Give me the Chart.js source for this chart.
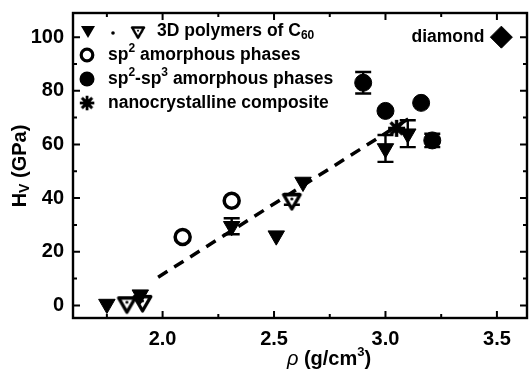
<!DOCTYPE html>
<html>
<head>
<meta charset="utf-8">
<script src="https://cdn.jsdelivr.net/npm/chart.js@4.4.0/dist/chart.umd.min.js"></script>
<style>
  html,body{margin:0;padding:0;background:#fff}
</style>
</head>
<body>
<canvas id="chart" width="530" height="373"></canvas>
<script>
// ---- data ----
const xTicks = [2.0, 2.5, 3.0, 3.5];
const yTicks = [0, 20, 40, 60, 80, 100];
const xMinor = [1.75, 2.25, 2.75, 3.25];
const yMinor = [10, 30, 50, 70, 90];

// 3D polymers of C60 (filled triangles)
const polyFilledX = [1.75, 1.90, 2.31, 2.51, 2.63, 3.00, 3.10];
const polyFilledY = [0.5, 4, 29.5, 26, 46, 58.5, 64];
const polyFilledErr = [0, 0, 3, 0, 0, 5, 5];
// 3D polymers of C60 (open triangles with dot)
const polyOpenX = [1.84, 1.91, 2.58];
const polyOpenY = [1, 1.5, 39.5];
const polyOpenErr = [0, 0, 2];
// sp2 amorphous phases
const sp2X = [2.09, 2.31];
const sp2Y = [25.5, 39];
// sp2-sp3 amorphous phases
const sp23X = [2.90, 3.00, 3.16, 3.21];
const sp23Y = [83, 72.5, 75.5, 61.5];
const sp23Err = [4, 0, 0, 2.5];
// nanocrystalline composite
const nanoX = [3.05];
const nanoY = [66];
// diamond
const diamondX = [3.52];
const diamondY = [100];
// dashed trend line
const fitX = [1.98, 3.13];
const fitY = [10.5, 71];

const pts = (xs, ys) => xs.map((x, i) => ({x: x, y: ys[i]}));
const FONT = '"Liberation Sans", Arial, Helvetica, sans-serif';

// custom marker: open triangle (pointing down) with a dot
function makeOpenTri(r){
  const c = document.createElement('canvas');
  const s = Math.ceil(r * 2 + 6);
  c.width = s; c.height = s;
  const g = c.getContext('2d');
  const cx = s / 2, cy = s / 2;
  g.beginPath();
  for (let k = 0; k < 3; k++){
    const a = Math.PI / 2 + k * 2 * Math.PI / 3;
    const px = cx + r * Math.cos(a), py = cy + r * Math.sin(a);
    if (k === 0) g.moveTo(px, py); else g.lineTo(px, py);
  }
  g.closePath();
  g.fillStyle = '#fff'; g.fill();
  g.lineJoin = 'round';
  g.lineWidth = 3.4; g.strokeStyle = '#000'; g.stroke();
  g.fillStyle = '#000';
  g.beginPath(); g.arc(cx, cy - 0.5, 1.5, 0, Math.PI * 2); g.fill();
  return c;
}
// custom marker: bold asterisk
function makeStar(r){
  const c = document.createElement('canvas');
  const s = Math.ceil(r * 2 + 4);
  c.width = s; c.height = s;
  const g = c.getContext('2d');
  const cx = s / 2, cy = s / 2;
  g.strokeStyle = '#000'; g.lineWidth = 3.4; g.lineCap = 'butt';
  for (let k = 0; k < 4; k++){
    const a = k * Math.PI / 4;
    g.beginPath();
    g.moveTo(cx - r * Math.cos(a), cy - r * Math.sin(a));
    g.lineTo(cx + r * Math.cos(a), cy + r * Math.sin(a));
    g.stroke();
  }
  g.fillStyle = '#000';
  g.beginPath(); g.arc(cx, cy, r * 0.55, 0, Math.PI * 2); g.fill();
  return c;
}
const openTriImg = makeOpenTri(9.5);
const starImg = makeStar(8.5);

// error bars, drawn under the markers
const errorBars = {
  id: 'errorBars',
  beforeDatasetsDraw(chart){
    const ctx = chart.ctx, ys = chart.scales.y;
    ctx.save();
    ctx.strokeStyle = '#000'; ctx.lineWidth = 2.4;
    chart.data.datasets.forEach((ds, di) => {
      if (!ds.errY) return;
      const meta = chart.getDatasetMeta(di);
      meta.data.forEach((el, i) => {
        const e = ds.errY[i];
        if (!e) return;
        const v = ds.data[i].y;
        const y1 = ys.getPixelForValue(v + e), y2 = ys.getPixelForValue(v - e);
        ctx.beginPath();
        ctx.moveTo(el.x, y1); ctx.lineTo(el.x, y2);
        ctx.moveTo(el.x - 8, y1); ctx.lineTo(el.x + 8, y1);
        ctx.moveTo(el.x - 8, y2); ctx.lineTo(el.x + 8, y2);
        ctx.stroke();
      });
    });
    ctx.restore();
  }
};

// frame, inward ticks, legend and axis titles
const decor = {
  id: 'decor',
  afterDraw(chart){
    const ctx = chart.ctx, a = chart.chartArea;
    const xs = chart.scales.x, ys = chart.scales.y;
    ctx.save();
    ctx.strokeStyle = '#000';
    ctx.lineWidth = 2.4;
    ctx.strokeRect(a.left, a.top, a.right - a.left, a.bottom - a.top);
    ctx.lineWidth = 2;
    const tick = (v, len, horiz) => {
      ctx.beginPath();
      if (horiz){
        const p = xs.getPixelForValue(v);
        ctx.moveTo(p, a.bottom); ctx.lineTo(p, a.bottom - len);
        ctx.moveTo(p, a.top); ctx.lineTo(p, a.top + len);
      } else {
        const p = ys.getPixelForValue(v);
        ctx.moveTo(a.left, p); ctx.lineTo(a.left + len, p);
        ctx.moveTo(a.right, p); ctx.lineTo(a.right - len, p);
      }
      ctx.stroke();
    };
    xTicks.forEach(v => tick(v, 7, true));
    xMinor.forEach(v => tick(v, 4, true));
    yTicks.forEach(v => tick(v, 7, false));
    yMinor.forEach(v => tick(v, 4, false));

    // legend
    ctx.fillStyle = '#000';
    ctx.textBaseline = 'middle';
    const big = 'bold 17.5px ' + FONT, small = 'bold 12px ' + FONT;
    const runs = (x, y, parts) => {
      parts.forEach(p => {
        ctx.font = p[1] ? small : big;
        const dy = p[1] === 'sup' ? -6 : (p[1] === 'sub' ? 5 : 0);
        ctx.fillText(p[0], x, y + dy);
        x += ctx.measureText(p[0]).width;
      });
    };
    const rows = [31, 55, 79, 103];
    // row 1 markers
    ctx.beginPath();
    ctx.moveTo(88 - 7, rows[0] - 5); ctx.lineTo(88 + 7, rows[0] - 5); ctx.lineTo(88, rows[0] + 7);
    ctx.closePath(); ctx.fill();
    ctx.beginPath(); ctx.arc(113, rows[0] + 2, 1.8, 0, Math.PI * 2); ctx.fill();
    ctx.drawImage(openTriImg, 138 - 9, rows[0] - 9, 18, 18);
    runs(157, rows[0], [['3D polymers of C'], ['60', 'sub']]);
    // row 2
    ctx.lineWidth = 3.2;
    ctx.beginPath(); ctx.arc(87, rows[1], 5.8, 0, Math.PI * 2); ctx.stroke();
    runs(108, rows[1], [['sp'], ['2', 'sup'], [' amorphous phases']]);
    // row 3
    ctx.beginPath(); ctx.arc(87, rows[2], 7.5, 0, Math.PI * 2); ctx.fill();
    runs(108, rows[2], [['sp'], ['2', 'sup'], ['-sp'], ['3', 'sup'], [' amorphous phases']]);
    // row 4
    ctx.drawImage(starImg, 87 - 9, rows[3] - 9, 18, 18);
    runs(108, rows[3], [['nanocrystalline composite']]);

    // diamond label
    ctx.font = big;
    ctx.textAlign = 'right';
    ctx.fillText('diamond', xs.getPixelForValue(diamondX[0]) - 17, ys.getPixelForValue(diamondY[0]));

    // axis titles
    ctx.textAlign = 'left';
    const nf = 'bold 20px ' + FONT, sf = 'bold 13px ' + FONT;
    const xt1 = 'ρ', xt2 = ' (g/cm', xt3 = '3', xt4 = ')';
    ctx.font = 'italic 20px ' + FONT; const w1 = ctx.measureText(xt1).width;
    ctx.font = nf; const w2 = ctx.measureText(xt2).width, w4 = ctx.measureText(xt4).width;
    ctx.font = sf; const w3 = ctx.measureText(xt3).width;
    let x0 = 329 - (w1 + w2 + w3 + w4) / 2;
    const ty = 359;
    ctx.font = 'italic 20px ' + FONT; ctx.fillText(xt1, x0, ty); x0 += w1;
    ctx.font = nf; ctx.fillText(xt2, x0, ty); x0 += w2;
    ctx.font = sf; ctx.fillText(xt3, x0, ty - 7); x0 += w3;
    ctx.font = nf; ctx.fillText(xt4, x0, ty);

    ctx.translate(20, 166);
    ctx.rotate(-Math.PI / 2);
    ctx.font = nf; const h1 = ctx.measureText('H').width, h3 = ctx.measureText(' (GPa)').width;
    ctx.font = 'bold 14px ' + FONT; const h2 = ctx.measureText('V').width;
    let yx = -(h1 + h2 + h3) / 2;
    ctx.font = nf; ctx.fillText('H', yx, 0); yx += h1;
    ctx.font = 'bold 14px ' + FONT; ctx.fillText('V', yx, 5); yx += h2;
    ctx.font = nf; ctx.fillText(' (GPa)', yx, 0);
    ctx.restore();
  }
};

new Chart(document.getElementById('chart'), {
  type: 'scatter',
  data: {
    datasets: [
      {label: 'fit', data: pts(fitX, fitY), showLine: true, borderColor: '#000', borderWidth: 3.5,
       borderDash: [11, 8], pointRadius: 0, fill: false, order: 10},
      {label: '3D polymers of C60', data: pts(polyFilledX, polyFilledY), errY: polyFilledErr,
       pointStyle: 'triangle', pointRotation: 180, pointRadius: 9.5, backgroundColor: '#000', borderColor: '#000', borderWidth: 1},
      {label: '3D polymers of C60 (open)', data: pts(polyOpenX, polyOpenY), errY: polyOpenErr,
       pointStyle: openTriImg, pointRadius: 10},
      {label: 'sp2 amorphous phases', data: pts(sp2X, sp2Y), pointStyle: 'circle', pointRadius: 7.5,
       backgroundColor: '#fff', borderColor: '#000', borderWidth: 3.5},
      {label: 'sp2-sp3 amorphous phases', data: pts(sp23X, sp23Y), errY: sp23Err, pointStyle: 'circle',
       pointRadius: 8.5, backgroundColor: '#000', borderColor: '#000', borderWidth: 1},
      {label: 'nanocrystalline composite', data: pts(nanoX, nanoY), pointStyle: starImg, pointRadius: 10},
      {label: 'diamond', data: pts(diamondX, diamondY), pointStyle: 'rectRot', pointRadius: 11,
       backgroundColor: '#000', borderColor: '#000', borderWidth: 1}
    ]
  },
  options: {
    responsive: false,
    animation: false,
    devicePixelRatio: 1,
    layout: {autoPadding: false, padding: {top: 13, right: 3, left: 0, bottom: 0}},
    plugins: {legend: {display: false}, tooltip: {enabled: false}},
    elements: {point: {hoverRadius: 0}},
    scales: {
      x: {
        type: 'linear', min: 1.598, max: 3.635,
        afterBuildTicks: s => { s.ticks = xTicks.map(v => ({value: v})); },
        afterFit: s => { s.height = 55; s.paddingLeft = 0; s.paddingRight = 0; },
        ticks: {color: '#000', font: {family: FONT, size: 20, weight: 'bold'}, padding: 9, maxRotation: 0, autoSkip: false,
                callback: v => Number(v).toFixed(1)},
        grid: {display: false, drawTicks: false},
        border: {display: false}
      },
      y: {
        min: -4.7, max: 109,
        afterBuildTicks: s => { s.ticks = yTicks.map(v => ({value: v})); },
        afterFit: s => { s.width = 73; s.paddingTop = 0; s.paddingBottom = 0; },
        ticks: {color: '#000', font: {family: FONT, size: 20, weight: 'bold'}, padding: 9, autoSkip: false,
                callback: v => String(v)},
        grid: {display: false, drawTicks: false},
        border: {display: false}
      }
    }
  },
  plugins: [errorBars, decor]
});
</script>
</body>
</html>
